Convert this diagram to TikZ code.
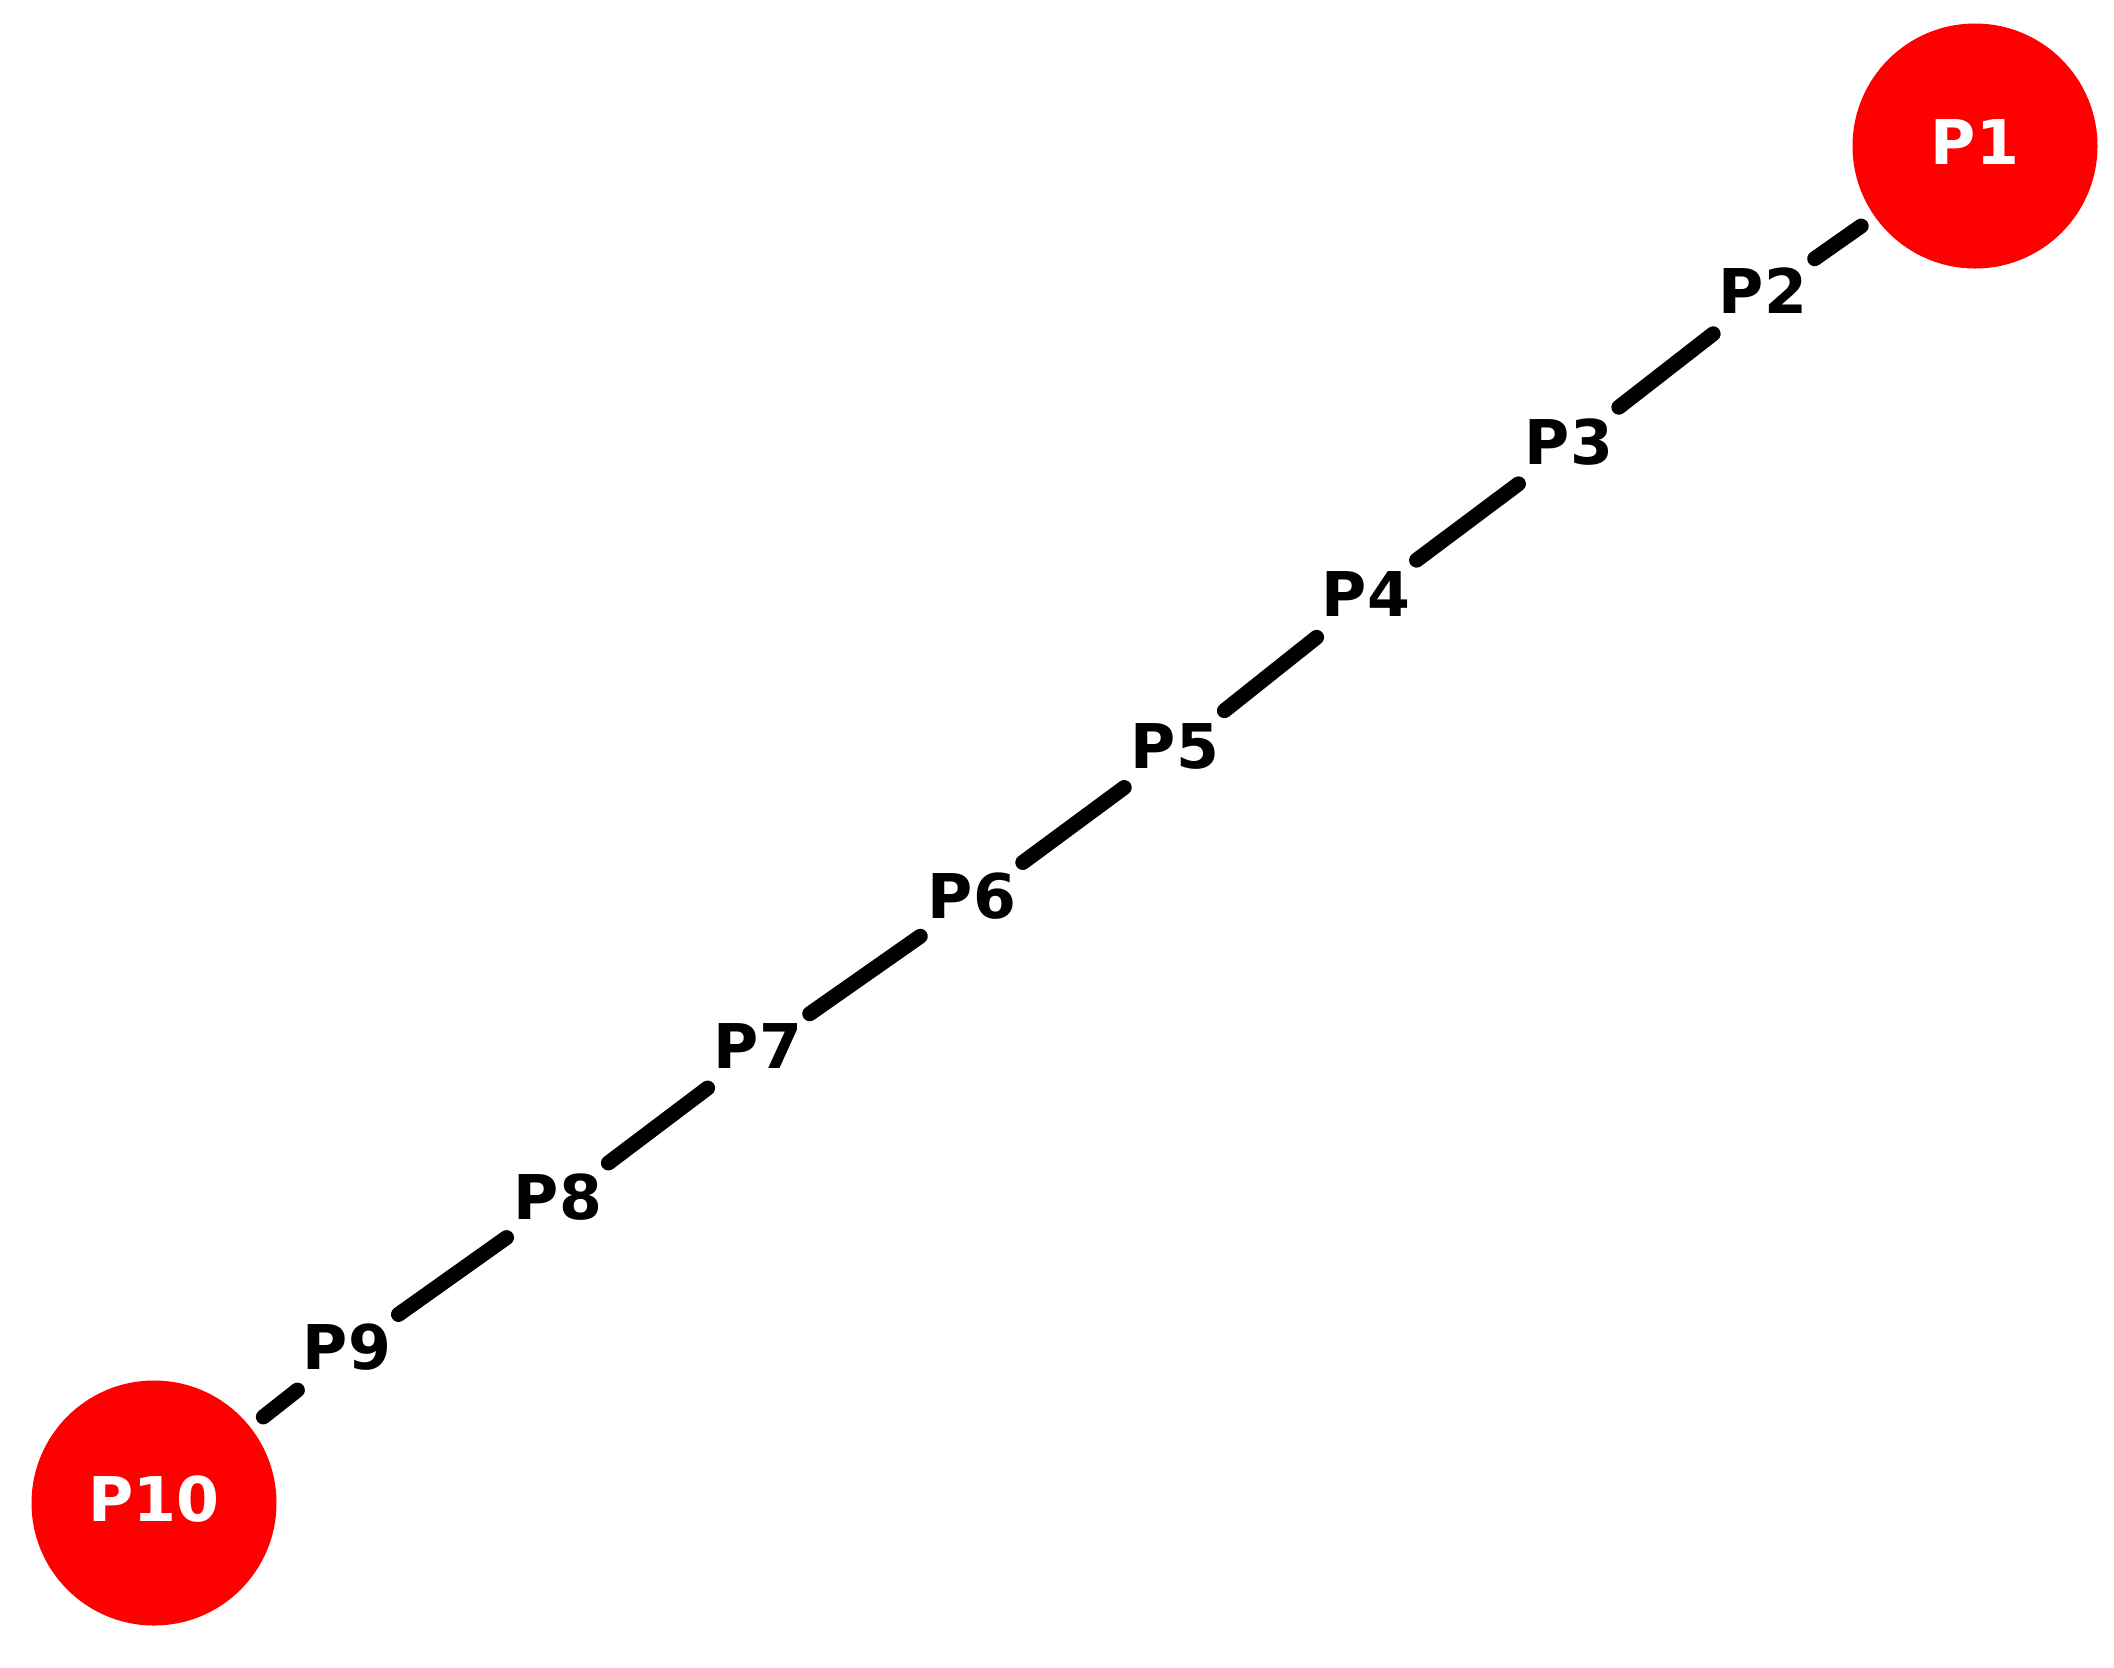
\documentclass[tikz,border=0pt]{standalone}
\usepackage{fontspec}
\newfontfamily\labelfont{DejaVu Sans}
\tikzset{
  pt/.style={shape=circle, inner sep=0pt, minimum size=37.5pt,
    font=\labelfont\bfseries\fontsize{18.5}{20}\selectfont,
    text height=11.1pt, text depth=0pt, text=black},
  endpt/.style={pt, fill=red, minimum size=73.5pt, text=white},
  edge/.style={draw=black, line width=4.5pt, line cap=round},
  edgeA/.style={edge, shorten <=4.8pt},
  edgeB/.style={edge, shorten >=4.8pt}
}
\begin{document}
\begin{tikzpicture}[x=0.3pt, y=-0.3pt]
\useasboundingbox (0,0) rectangle (2114,1667);
\node[endpt] (P1) at (1975,146) {P1};
\node[pt] (P2) at (1763,295) {P2};
\node[pt] (P3) at (1569,446) {P3};
\node[pt] (P4) at (1366,598) {P4};
\node[pt] (P5) at (1175,750) {P5};
\node[pt] (P6) at (972,900) {P6};
\node[pt] (P7) at (758,1050) {P7};
\node[pt] (P8) at (558,1201) {P8};
\node[pt] (P9) at (347,1351) {P9};
\node[endpt] (P10) at (154,1503) {P10};
\draw[edgeA] (P1) -- (P2);
\draw[edge] (P2) -- (P3);
\draw[edge] (P3) -- (P4);
\draw[edge] (P4) -- (P5);
\draw[edge] (P5) -- (P6);
\draw[edge] (P6) -- (P7);
\draw[edge] (P7) -- (P8);
\draw[edge] (P8) -- (P9);
\draw[edgeB] (P9) -- (P10);
\end{tikzpicture}
\end{document}
